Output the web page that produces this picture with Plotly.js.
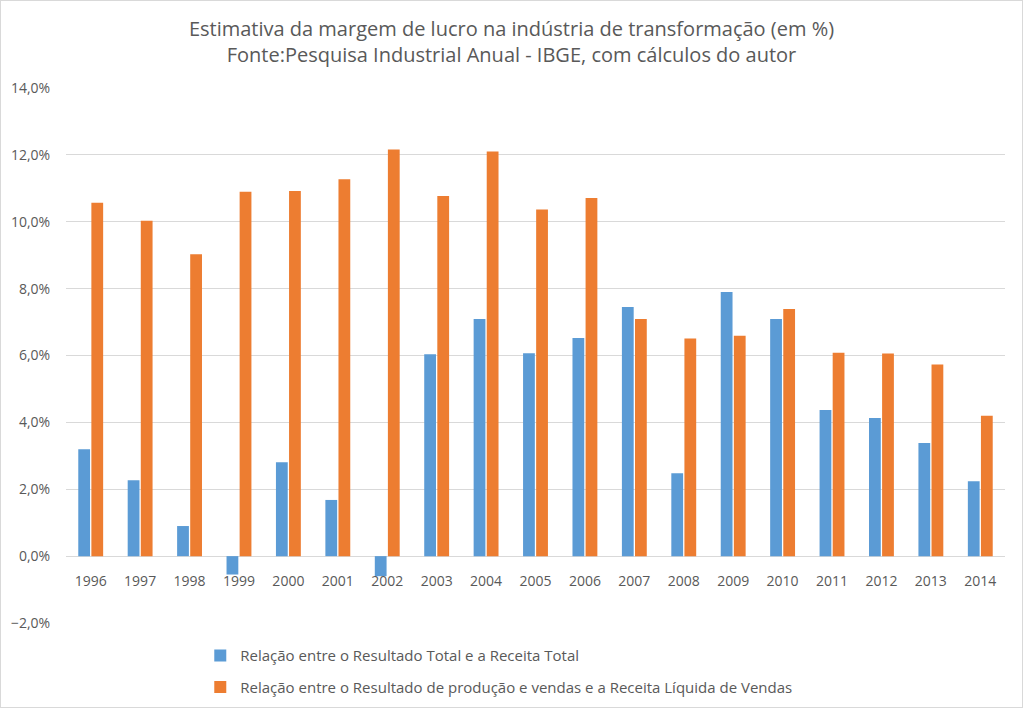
<!DOCTYPE html>
<html>
<head>
<meta charset="utf-8">
<script src="https://cdn.plot.ly/plotly-3.0.1.min.js"></script>
<style>
html,body{margin:0;padding:0;background:#fff;}
#chart{width:1021px;height:706px;border:1px solid #d9d9d9;}
</style>
</head>
<body>
<div id="chart"></div>
<script>
const years = ['1996','1997','1998','1999','2000','2001','2002','2003','2004','2005','2006','2007','2008','2009','2010','2011','2012','2013','2014'];
const resultadoTotal = [3.20, 2.27, 0.90, -0.55, 2.81, 1.68, -0.60, 6.04, 7.09, 6.07, 6.52, 7.45, 2.48, 7.90, 7.09, 4.37, 4.13, 3.38, 2.24];
const resultadoProducao = [10.57, 10.03, 9.03, 10.90, 10.92, 11.27, 12.16, 10.77, 12.10, 10.37, 10.71, 7.09, 6.51, 6.59, 7.39, 6.08, 6.06, 5.73, 4.20];
const seriesNames = ['Relação entre o Resultado Total e a Receita Total',
  'Relação entre o Resultado de produção e vendas e a Receita Líquida de Vendas'];
const titleLines = ['Estimativa da margem de lucro na indústria de transformação (em %)',
  'Fonte:Pesquisa Industrial Anual - IBGE, com cálculos do autor'];

const font = 'Open Sans, Liberation Sans, sans-serif';
const traces = [
  {type:'bar', x:years, y:resultadoTotal, name:seriesNames[0], legendgroup:'a', marker:{color:'#5B9BD5'}},
  {type:'bar', x:years, y:resultadoProducao, name:seriesNames[1], legendgroup:'b', marker:{color:'#ED7D31'}}
];
const layout = {
  width:1021, height:706,
  margin:{l:65, r:17, t:87, b:84},
  paper_bgcolor:'#fff', plot_bgcolor:'#fff',
  font:{family:font, color:'#595959', size:14},
  title:{text:titleLines.join('<br>'), x:0.5, xanchor:'center', yref:'container', y:0.951, yanchor:'middle',
    font:{family:font, size:20, color:'#595959'}},
  barmode:'group', bargap:0.47, bargroupgap:0.1,
  xaxis:{type:'category', anchor:'free', position:0.125, showline:false, ticks:'outside', ticklen:12,
    tickcolor:'rgba(0,0,0,0)', showgrid:false, zeroline:false, tickfont:{size:14, color:'#595959'}},
  yaxis:{range:[-2,14], dtick:2, tickformat:'.1f', ticksuffix:'%', showgrid:true,
    gridcolor:'#d9d9d9', zeroline:true, zerolinecolor:'#d9d9d9', zerolinewidth:1,
    ticks:'outside', ticklen:12, tickcolor:'rgba(0,0,0,0)', tickfont:{size:14, color:'#595959'}, fixedrange:true},
  separators:',.',
  showlegend:true,
  legend:{orientation:'v', x:0.143, xanchor:'left', yref:'container', y:0.096, yanchor:'top',
    font:{size:15, color:'#595959'}, tracegroupgap:9, itemwidth:30},
};
Plotly.newPlot('chart', traces, layout, {displayModeBar:false, staticPlot:true});
</script>
</body>
</html>
